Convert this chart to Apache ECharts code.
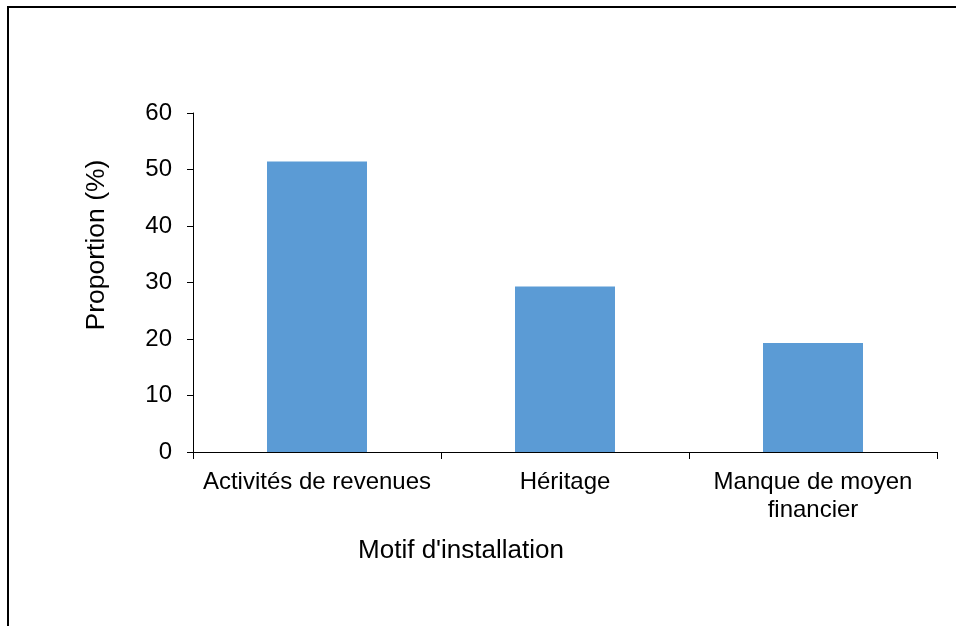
<!DOCTYPE html>
<html>
<head>
<meta charset="utf-8">
<style>
  html, body { margin: 0; padding: 0; background: #fff; }
  #chart { width: 956px; height: 626px; }
</style>
<script src="https://cdn.jsdelivr.net/npm/echarts@6/dist/echarts.min.js"></script>
</head>
<body>
<div id="chart"></div>
<script>
const categories = ['Activités de revenues', 'Héritage', 'Manque de moyen\nfinancier']
const proportions = [51.4, 29.3, 19.3]
const yTicks = [0, 10, 20, 30, 40, 50, 60]

const font = '"Liberation Sans", Arial, sans-serif'

const chart = echarts.init(document.getElementById('chart'))
chart.setOption({
  animation: false,
  backgroundColor: '#fff',
  grid: {
    left: 193,
    right: 19,
    top: 113,
    bottom: 174
  },
  xAxis: {
    type: 'category',
    data: categories,
    axisLine: { lineStyle: { color: '#000', width: 1 } },
    axisTick: { show: true, length: 7, lineStyle: { color: '#000' } },
    axisLabel: {
      interval: 0,
      margin: 16,
      color: '#000',
      fontFamily: font,
      fontSize: 24,
      lineHeight: 28
    }
  },
  yAxis: {
    type: 'value',
    min: yTicks[0],
    max: yTicks[yTicks.length - 1],
    interval: 10,
    axisLine: { show: true, lineStyle: { color: '#000', width: 1 } },
    axisTick: { show: true, length: 6, lineStyle: { color: '#000' } },
    splitLine: { show: false },
    axisLabel: {
      margin: 21,
      color: '#000',
      fontFamily: font,
      fontSize: 24
    }
  },
  graphic: [
    {
      // outer frame, only left and top edges are visible
      type: 'rect',
      shape: { x: 8, y: 7, width: 1200, height: 1200 },
      style: { fill: 'none', stroke: '#000', lineWidth: 2 }
    },
    {
      type: 'text',
      x: 461,
      y: 551,
      style: {
        text: "Motif d'installation",
        fill: '#000',
        font: '26px ' + font,
        align: 'center',
        verticalAlign: 'middle'
      }
    },
    {
      type: 'text',
      x: 97,
      y: 245,
      rotation: Math.PI / 2,
      style: {
        text: 'Proportion (%)',
        fill: '#000',
        font: '26.5px ' + font,
        align: 'center',
        verticalAlign: 'middle'
      }
    }
  ],
  series: [
    {
      type: 'bar',
      data: proportions,
      barWidth: 100,
      itemStyle: { color: '#5B9BD5' }
    }
  ]
})
</script>
</body>
</html>
